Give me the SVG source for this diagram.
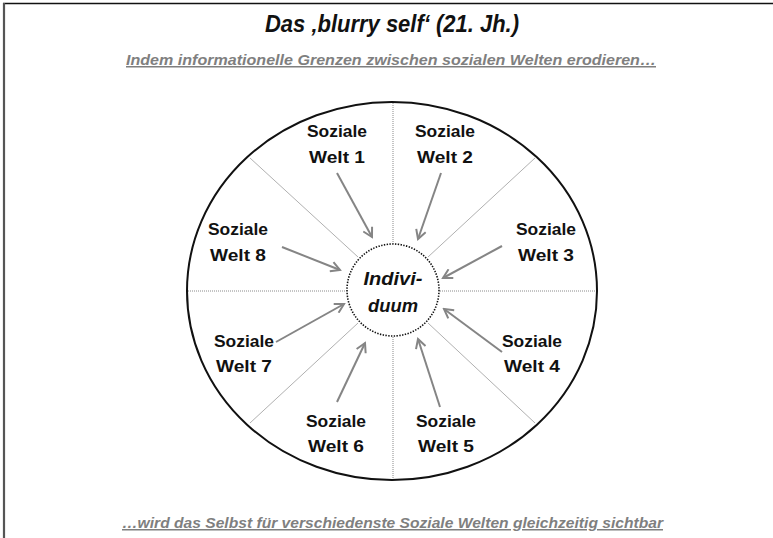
<svg xmlns="http://www.w3.org/2000/svg" width="773" height="538" viewBox="0 0 773 538">
<defs>
<style>
.lbl{font-family:"Liberation Sans",Arial,sans-serif;font-weight:bold;font-size:17px;fill:#111;text-anchor:middle}
.ind{font-family:"Liberation Sans",Arial,sans-serif;font-weight:bold;font-style:italic;font-size:18px;fill:#111;text-anchor:middle}
.sub{font-family:"Liberation Sans",Arial,sans-serif;font-weight:bold;font-style:italic;font-size:15px;fill:#7f7f7f;text-decoration:underline}
.arr{stroke:#858585;stroke-width:2;fill:none;marker-end:url(#ah)}
.dot{stroke:#8a8a8a;stroke-width:1;stroke-dasharray:1 1;fill:none}
.dia{stroke:#b0b0b0;stroke-width:1;fill:none}
</style>
<marker id="ah" viewBox="0 0 12 12" refX="10" refY="6" markerWidth="6" markerHeight="6" orient="auto" markerUnits="strokeWidth">
<path d="M1,1 L10,6 L1,11" fill="none" stroke="#858585" stroke-width="2"/>
</marker>
</defs>
<rect width="773" height="538" fill="#fff"/>
<line x1="3" y1="3.5" x2="773" y2="3.5" stroke="#111" stroke-width="1.5"/>
<line x1="4" y1="3" x2="4" y2="538" stroke="#555" stroke-width="2.2"/>
<text x="392" y="32" font-family="Liberation Sans,Arial,sans-serif" font-weight="bold" font-style="italic" font-size="23" fill="#111" text-anchor="middle" textLength="254" lengthAdjust="spacingAndGlyphs">Das ‚blurry self‘ (21. Jh.)</text>
<text class="sub" x="126" y="65" textLength="530" lengthAdjust="spacingAndGlyphs">Indem informationelle Grenzen zwischen sozialen Welten erodieren…</text>
<text class="sub" x="122" y="528" textLength="541" lengthAdjust="spacingAndGlyphs">…wird das Selbst für verschiedenste Soziale Welten gleichzeitig sichtbar</text>
<g id="frame">
<ellipse cx="392" cy="291" rx="205" ry="189" fill="none" stroke="#111" stroke-width="2"/>
<line class="dot" x1="393" y1="103" x2="393" y2="245"/>
<line class="dot" x1="393" y1="337" x2="393" y2="479"/>
<line class="dot" x1="188" y1="291" x2="346" y2="291"/>
<line class="dot" x1="440" y1="291" x2="596" y2="291"/>
<line class="dia" x1="250" y1="158" x2="358" y2="257"/>
<line class="dia" x1="535" y1="158" x2="428" y2="257"/>
<line class="dia" x1="250" y1="423" x2="358" y2="323"/>
<line class="dia" x1="535" y1="423" x2="428" y2="323"/>
</g>
<g id="individuum">
<circle cx="393" cy="290" r="46" fill="#fff" stroke="#111" stroke-width="1.6" stroke-dasharray="1.4 1.4"/>
<text class="ind" x="393" y="285" textLength="59" lengthAdjust="spacingAndGlyphs">Indivi-</text>
<text class="ind" x="393" y="312" textLength="50" lengthAdjust="spacingAndGlyphs">duum</text>
</g>
<g id="welt1"><text class="lbl" x="337" y="137" textLength="60" lengthAdjust="spacingAndGlyphs">Soziale</text><text class="lbl" x="337" y="163" textLength="56" lengthAdjust="spacingAndGlyphs">Welt 1</text></g>
<g id="welt2"><text class="lbl" x="445" y="137" textLength="60" lengthAdjust="spacingAndGlyphs">Soziale</text><text class="lbl" x="445" y="163" textLength="56" lengthAdjust="spacingAndGlyphs">Welt 2</text></g>
<g id="welt3"><text class="lbl" x="546" y="235" textLength="60" lengthAdjust="spacingAndGlyphs">Soziale</text><text class="lbl" x="546" y="261" textLength="56" lengthAdjust="spacingAndGlyphs">Welt 3</text></g>
<g id="welt4"><text class="lbl" x="532" y="347" textLength="60" lengthAdjust="spacingAndGlyphs">Soziale</text><text class="lbl" x="532" y="372" textLength="56" lengthAdjust="spacingAndGlyphs">Welt 4</text></g>
<g id="welt5"><text class="lbl" x="446" y="427" textLength="60" lengthAdjust="spacingAndGlyphs">Soziale</text><text class="lbl" x="446" y="452" textLength="56" lengthAdjust="spacingAndGlyphs">Welt 5</text></g>
<g id="welt6"><text class="lbl" x="336" y="427" textLength="60" lengthAdjust="spacingAndGlyphs">Soziale</text><text class="lbl" x="336" y="452" textLength="56" lengthAdjust="spacingAndGlyphs">Welt 6</text></g>
<g id="welt7"><text class="lbl" x="244" y="347" textLength="60" lengthAdjust="spacingAndGlyphs">Soziale</text><text class="lbl" x="244" y="372" textLength="56" lengthAdjust="spacingAndGlyphs">Welt 7</text></g>
<g id="welt8"><text class="lbl" x="238" y="235" textLength="60" lengthAdjust="spacingAndGlyphs">Soziale</text><text class="lbl" x="238" y="261" textLength="56" lengthAdjust="spacingAndGlyphs">Welt 8</text></g>
<g id="connectors">
<line class="arr" x1="337" y1="173" x2="372" y2="237"/>
<line class="arr" x1="441" y1="173" x2="418" y2="239"/>
<line class="arr" x1="282" y1="247" x2="340" y2="270"/>
<line class="arr" x1="502" y1="246" x2="443" y2="278"/>
<line class="arr" x1="276" y1="342" x2="344" y2="304"/>
<line class="arr" x1="502" y1="352" x2="444" y2="309"/>
<line class="arr" x1="337" y1="402" x2="365" y2="343"/>
<line class="arr" x1="440" y1="407" x2="418" y2="339"/>
</g>
</svg>
